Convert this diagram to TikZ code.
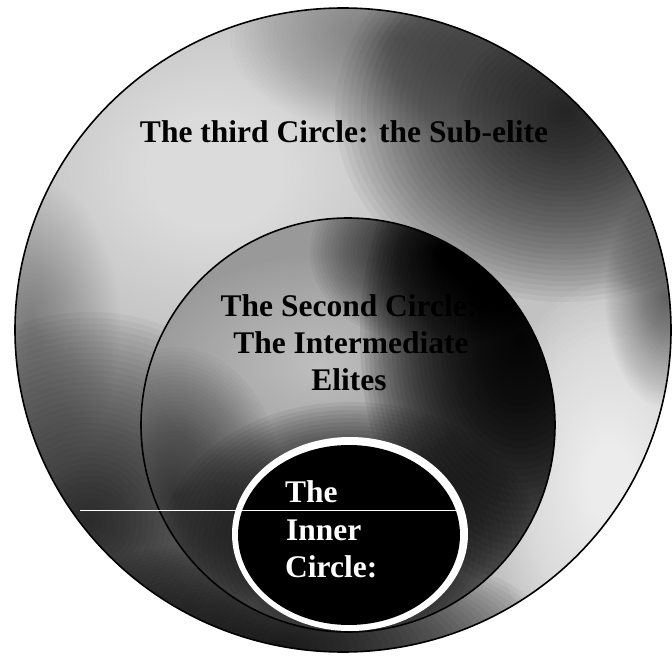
\documentclass[tikz,border=0pt]{standalone}
\usepackage{fontspec}
\setmainfont{Liberation Serif}
\newcommand\mysoftblob[6]{%
  \pgfmathsetmacro\myblobop{1-(1-#6)^(1/36)}%
  \foreach \k in {1,...,36}{%
    \fill[#1, opacity=\myblobop] (#2,#3) ellipse [x radius={#4*\k/36}, y radius={#5*\k/36}];}}
\begin{document}
\begin{tikzpicture}[x=1pt,y=1pt,
  rim/.style={draw=black, line width=1.6pt},
  lbl/.style={font=\fontsize{31.5}{37.5}\selectfont\bfseries, inner sep=0pt, text=black},
  ilbl/.style={lbl, text=white, anchor=base west}]
\useasboundingbox[fill=white] (0,0) rectangle (672,657);
% ---- outer circle (the sub-elite)
\begin{scope}
  \clip (343,327) ellipse [x radius=328pt, y radius=322pt];
  \fill[black!24] (0,0) rectangle (672,657);
  \mysoftblob{white}{215}{485}{210}{175}{0.65}
  \mysoftblob{black}{565}{545}{230}{190}{0.78}
  \mysoftblob{black}{400}{620}{170}{100}{0.35}
  \mysoftblob{black}{30}{330}{90}{150}{0.3}
  \mysoftblob{black}{90}{135}{210}{210}{0.72}
  \mysoftblob{black}{280}{10}{280}{110}{0.82}
  \mysoftblob{white}{610}{175}{120}{200}{0.85}
  \mysoftblob{black}{665}{360}{60}{110}{0.4}
\end{scope}
\draw[rim] (343,327) ellipse [x radius=328pt, y radius=322pt];
% ---- middle circle (intermediate elites)
\begin{scope}
  \clip (348,232) circle [radius=207pt];
  \fill[black!40] (130,457) rectangle (570,7);
  \mysoftblob{white}{320}{290}{170}{110}{0.5}
  \mysoftblob{black}{520}{320}{160}{250}{0.94}
  \mysoftblob{black}{440}{405}{130}{95}{0.75}
  \mysoftblob{black}{175}{160}{110}{150}{0.6}
  \mysoftblob{black}{350}{110}{190}{145}{0.88}
\end{scope}
\draw[rim] (348,232) circle [radius=207pt];
% ---- inner circle
\fill[white] (350,123) ellipse [x radius=118pt, y radius=97pt];
\fill[black] (349,122) ellipse [x radius=111pt, y radius=90pt];
% scan line
\coordinate (sl1) at (80,147);
\coordinate (sl2) at (458,147);
\draw[white, line width=0.8pt] (sl1) -- (sl2);
% ---- labels
\node[lbl, anchor=base] (third) at (344,514) {The third Circle: the Sub-elite};
\node[lbl, anchor=base] (second1) at (349,341) {The Second Circle:};
\node[lbl, anchor=base] (second2) at (351,304) {The Intermediate};
\node[lbl, anchor=base] (second3) at (349,267) {Elites};
\node[ilbl] (inner1) at (285,155) {The};
\node[ilbl] (inner2) at (286,117) {Inner};
\node[ilbl] (inner3) at (285,80) {Circle:};
\end{tikzpicture}
\end{document}
